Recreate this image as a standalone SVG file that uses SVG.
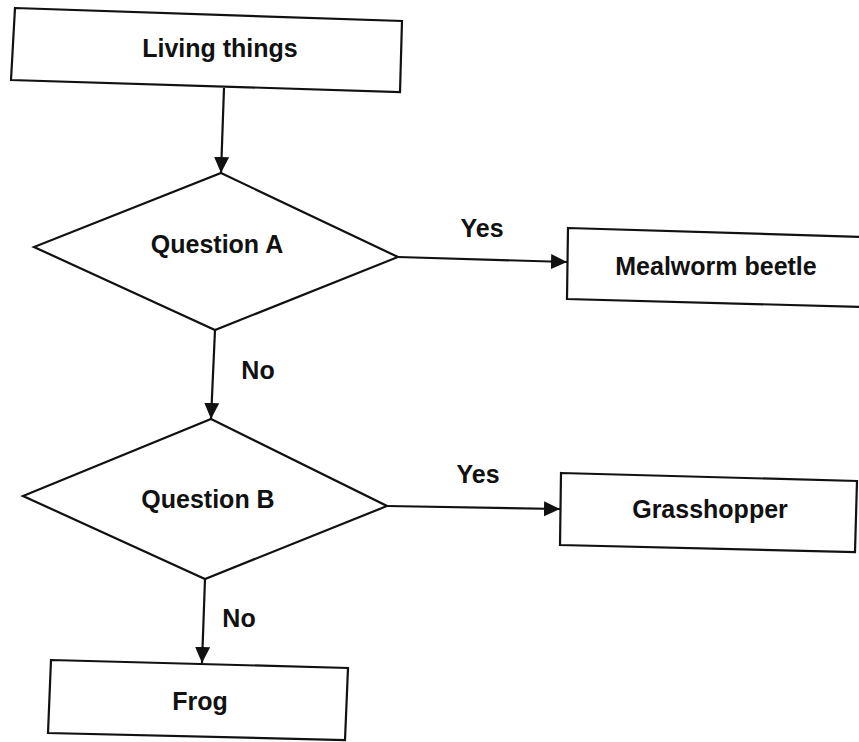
<svg xmlns="http://www.w3.org/2000/svg" width="859" height="742" viewBox="0 0 859 742">
<style>
.shape{fill:#fff;stroke:#111;stroke-width:2.2;stroke-linejoin:miter}
.conn{fill:none;stroke:#111;stroke-width:2.2}
text{font-family:"Liberation Sans",Arial,sans-serif;font-weight:bold;font-size:25px;fill:#111;text-anchor:middle}
</style>
<defs>
<marker id="arr" markerUnits="userSpaceOnUse" markerWidth="18" markerHeight="16" refX="16" refY="7.5" orient="auto">
<path d="M0,0 L16,7.5 L0,15 Z" fill="#111"/>
</marker>
</defs>
<rect width="859" height="742" fill="#fff"/>
<g id="connectors">
<line class="conn" x1="224" y1="88" x2="221" y2="173" marker-end="url(#arr)"/>
<line class="conn" x1="398" y1="257" x2="567" y2="262" marker-end="url(#arr)"/>
<line class="conn" x1="215" y1="330" x2="211" y2="419" marker-end="url(#arr)"/>
<line class="conn" x1="387" y1="506" x2="560" y2="509" marker-end="url(#arr)"/>
<line class="conn" x1="205" y1="579" x2="202" y2="663" marker-end="url(#arr)"/>
<text x="482" y="237">Yes</text>
<text x="258" y="379">No</text>
<text x="478" y="483">Yes</text>
<text x="239" y="627">No</text>
</g>
<g id="living">
<polygon class="shape" points="15,8 402,21 400,92 11,80"/>
<text x="220" y="57">Living things</text>
</g>
<g id="questionA">
<polygon class="shape" points="221,173 398,257 215,330 34,247"/>
<text x="217" y="253">Question A</text>
</g>
<g id="mealworm">
<polygon class="shape" points="568,228 864,237 864,307 567,299"/>
<text x="716" y="275">Mealworm beetle</text>
</g>
<g id="questionB">
<polygon class="shape" points="211,419 387,506 205,579 23,496"/>
<text x="208" y="508">Question B</text>
</g>
<g id="grasshopper">
<polygon class="shape" points="561,473 857,481 855,552 560,545"/>
<text x="710" y="518">Grasshopper</text>
</g>
<g id="frog">
<polygon class="shape" points="51,660 348,668 345,740 48,733"/>
<text x="200" y="710">Frog</text>
</g>
</svg>
